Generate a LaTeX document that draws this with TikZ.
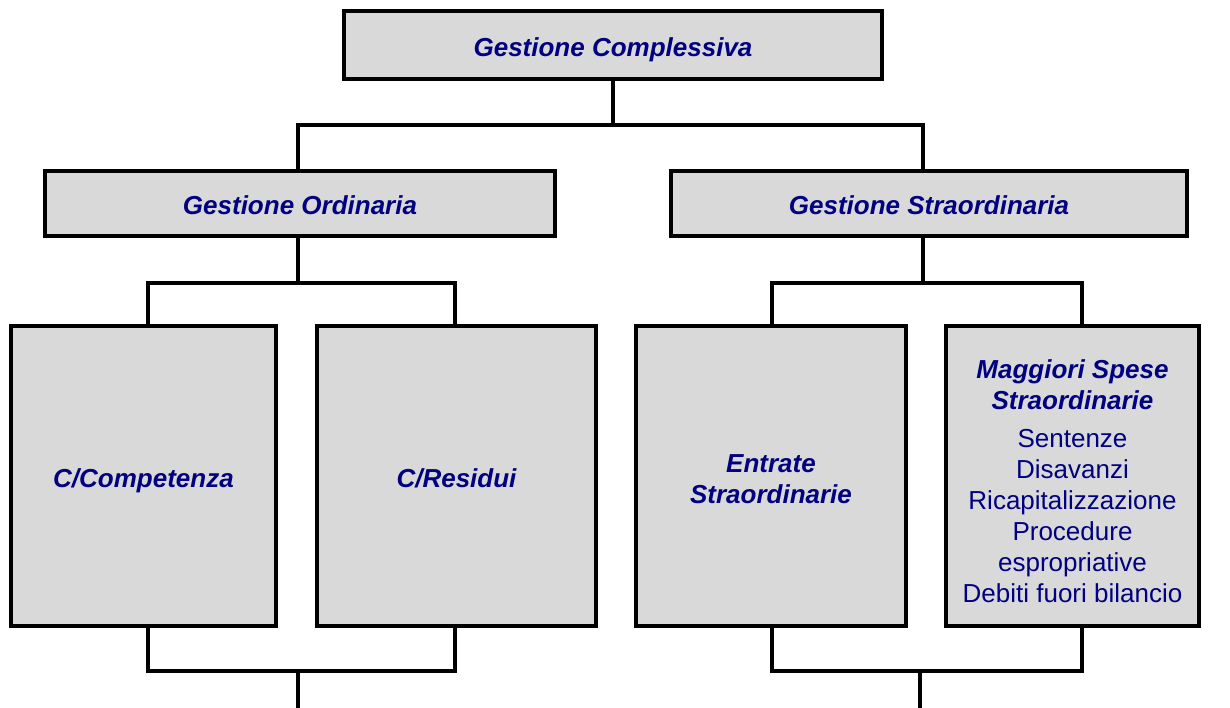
\documentclass[tikz,border=0pt]{standalone}
\usepackage{fontspec}
\setmainfont{Liberation Sans}
\definecolor{navy}{RGB}{0,0,128}
\definecolor{boxgray}{RGB}{217,217,217}
\begin{document}
\begin{tikzpicture}[x=0.75pt,y=-0.75pt,
  box/.style={draw=black, fill=boxgray, line width=2.7pt, text=navy, align=center,
    inner sep=0pt, font=\fontsize{19.5}{23.3}\selectfont},
  title/.style={font=\fontsize{19.5}{23.3}\selectfont\bfseries\itshape, text height=17pt, text depth=0pt},
  txt/.style={text=navy, align=center, inner sep=0pt, font=\fontsize{19.5}{23.3}\selectfont},
  conn/.style={draw=black, line width=2.7pt}]
\useasboundingbox (0,0) rectangle (1230,707);
% nodes
\node[box, title, minimum width=538*0.75pt, minimum height=68*0.75pt] (top) at (613,45) {Gestione Complessiva};
\node[box, title, minimum width=510*0.75pt, minimum height=65*0.75pt] (ord) at (300,203.5) {Gestione Ordinaria};
\node[box, title, minimum width=516*0.75pt, minimum height=65*0.75pt] (stra) at (929,203.5) {Gestione Straordinaria};
\node[box, title, minimum width=265*0.75pt, minimum height=300*0.75pt] (comp) at (143.5,476) {C/Competenza};
\node[box, title, minimum width=279*0.75pt, minimum height=300*0.75pt] (res) at (456.5,476) {C/Residui};
\node[box, minimum width=270*0.75pt, minimum height=300*0.75pt] (entr) at (771,476) {};
\node[box, minimum width=253*0.75pt, minimum height=300*0.75pt] (magg) at (1072.5,476) {};
\node[txt] (entrtext) at (771,479) {\bfseries\itshape Entrate\\\bfseries\itshape Straordinarie};
\node[txt] (maggtext) at (1072.5,481)
  {\bfseries\itshape Maggiori Spese\\\bfseries\itshape Straordinarie\\[5pt]
   Sentenze\\Disavanzi\\Ricapitalizzazione\\Procedure\\espropriative\\Debiti fuori bilancio};
% junction coordinates
\coordinate (j0) at (613,125);
\coordinate (jl) at (298,125);
\coordinate (jr) at (923,125);
\coordinate (a0) at (298,283);
\coordinate (al) at (148,283);
\coordinate (ar) at (455,283);
\coordinate (b0) at (923,283);
\coordinate (bl) at (772,283);
\coordinate (br) at (1082,283);
\coordinate (cl) at (148,671);
\coordinate (cr) at (455,671);
\coordinate (c0) at (298,671);
\coordinate (cend) at (298,708);
\coordinate (dl) at (772,671);
\coordinate (dr) at (1082,671);
\coordinate (d0) at (920,671);
\coordinate (dend) at (920,708);
% top connectors
\draw[conn] (top.south) -- (j0);
\draw[conn] (jl |- ord.north) -- (jl) -- (jr) -- (jr |- stra.north);
% ordinaria
\draw[conn] (a0 |- ord.south) -- (a0);
\draw[conn] (al |- comp.north) -- (al) -- (ar) -- (ar |- res.north);
% straordinaria
\draw[conn] (b0 |- stra.south) -- (b0);
\draw[conn] (bl |- entr.north) -- (bl) -- (br) -- (br |- magg.north);
% bottom left
\draw[conn] (cl |- comp.south) -- (cl) -- (cr) -- (cr |- res.south);
\draw[conn] (c0) -- (cend);
% bottom right
\draw[conn] (dl |- entr.south) -- (dl) -- (dr) -- (dr |- magg.south);
\draw[conn] (d0) -- (dend);
\end{tikzpicture}
\end{document}
